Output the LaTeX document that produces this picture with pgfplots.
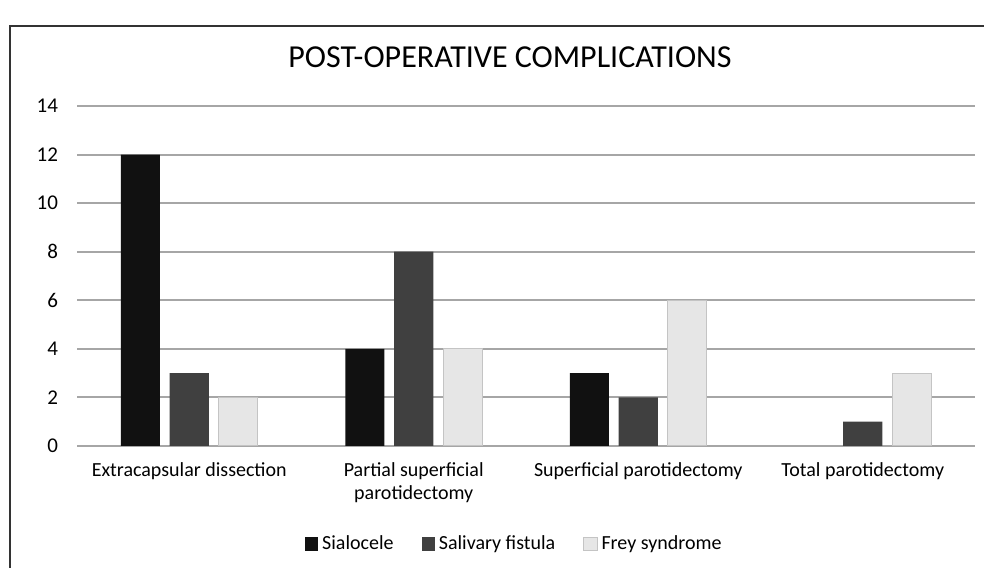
\documentclass[border=0pt]{standalone}
\usepackage{pgfplots}
\pgfplotsset{compat=1.18}
\usepackage{fontspec}
\setmainfont{Carlito}
\definecolor{sia}{HTML}{111111}
\definecolor{fis}{HTML}{404040}
\definecolor{frey}{HTML}{E6E6E6}
\definecolor{freyb}{HTML}{C4C4C4}
\definecolor{gridc}{HTML}{A6A6A6}
\begin{document}
\begin{tikzpicture}[x=0.5pt,y=0.5pt]
\path[use as bounding box] (0,0) rectangle (984,567);
\draw[line width=0.8pt,black!80] (10,-5) -- (10,541) -- (990,541);
\node[font=\fontsize{16}{19}\selectfont] at (510,510) {POST-OPERATIVE COMPLICATIONS};
\begin{axis}[
  at={(38.5pt,60.5pt)}, anchor=south west,
  scale only axis, width=449pt, height=170pt,
  xmin=-0.5, xmax=3.5, ymin=0, ymax=14,
  ytick={0,2,...,14},
  xtick={0,1,2,3},
  xticklabels={Extracapsular dissection, {Partial superficial\\parotidectomy}, Superficial parotidectomy, Total parotidectomy},
  xticklabel style={align=center, font=\fontsize{10}{11.5}\selectfont, anchor=north, yshift=-5pt},
  yticklabel style={font=\fontsize{10.5}{12}\selectfont, anchor=east, xshift=-6pt},
  /pgf/number format/assume math mode=true,
  major tick length=0pt,
  axis line style={draw=none},
  ymajorgrids, grid style={gridc, line width=1pt},
  legend style={at={(0.488,-0.288)}, anchor=center, draw=none, fill=none, legend columns=3,
    font=\fontsize{10}{12}\selectfont,
    /tikz/every even column/.append style={column sep=12pt}},
  legend image code/.code={\fill[#1] (0pt,-3.3pt) rectangle (6.6pt,3.3pt);},
]
\addplot[ybar, bar width=0.174, bar shift=-0.218, fill=sia, draw=none] coordinates {(0,12) (1,4) (2,3)};
\addplot[ybar, bar width=0.174, bar shift=0, fill=fis, draw=none] coordinates {(0,3) (1,8) (2,2) (3,1)};
\addplot[ybar, bar width=0.174, bar shift=0.218, fill=frey, draw=freyb, line width=0.5pt] coordinates {(0,2) (1,4) (2,6) (3,3)};
\legend{Sialocele, Salivary fistula, Frey syndrome}
\end{axis}
\end{tikzpicture}
\end{document}
